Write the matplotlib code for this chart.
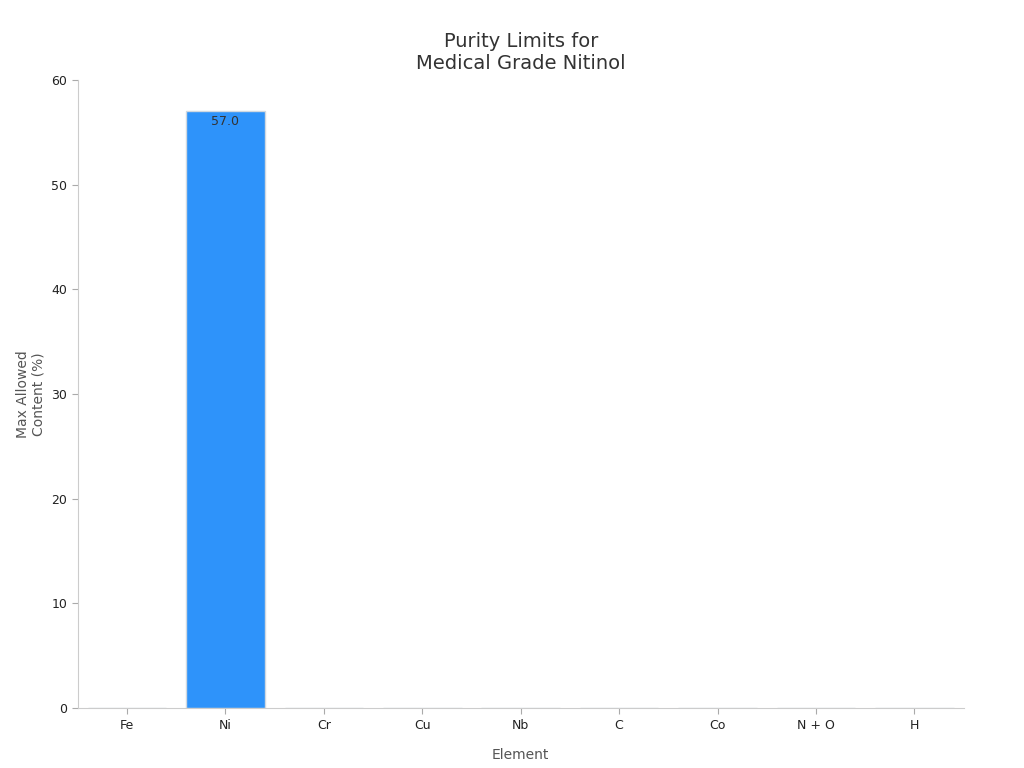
import matplotlib

matplotlib.use("Agg")
import matplotlib.pyplot as plt

elements = ["Fe", "Ni", "Cr", "Cu", "Nb", "C", "Co", "N + O", "H"]
max_content = [0.05, 57.0, 0.01, 0.01, 0.025, 0.05, 0.05, 0.05, 0.005]

fig = plt.figure(figsize=(10.24, 7.68), dpi=100)
ax = fig.add_axes([0.076, 0.078, 0.865, 0.818])

bars = ax.bar(elements, max_content, width=0.8, color="#2E93FA",
              edgecolor="#d0d8e0", linewidth=1)
for bar, val in zip(bars, max_content):
    if val > 1:
        ax.text(bar.get_x() + bar.get_width() / 2, val - 0.4, f"{val:.1f}",
                ha="center", va="top", fontsize=9, color="#333333")

ax.set_ylim(0, 60)
ax.set_xlim(-0.5, len(elements) - 0.5)
ax.set_yticks(range(0, 61, 10))
ax.tick_params(labelsize=9, colors="#222222", length=4)
ax.tick_params(axis="both", color="#aaaaaa")
for side in ("top", "right"):
    ax.spines[side].set_visible(False)
for side in ("left", "bottom"):
    ax.spines[side].set_color("#cccccc")

ax.set_xlabel("Element", fontsize=10, color="#555555", labelpad=12)
ax.set_ylabel("Max Allowed\nContent (%)", fontsize=10, color="#555555")
ax.set_title("Purity Limits for\nMedical Grade Nitinol", fontsize=14,
             color="#333333", pad=8)

fig.savefig("out.png", dpi=100)
